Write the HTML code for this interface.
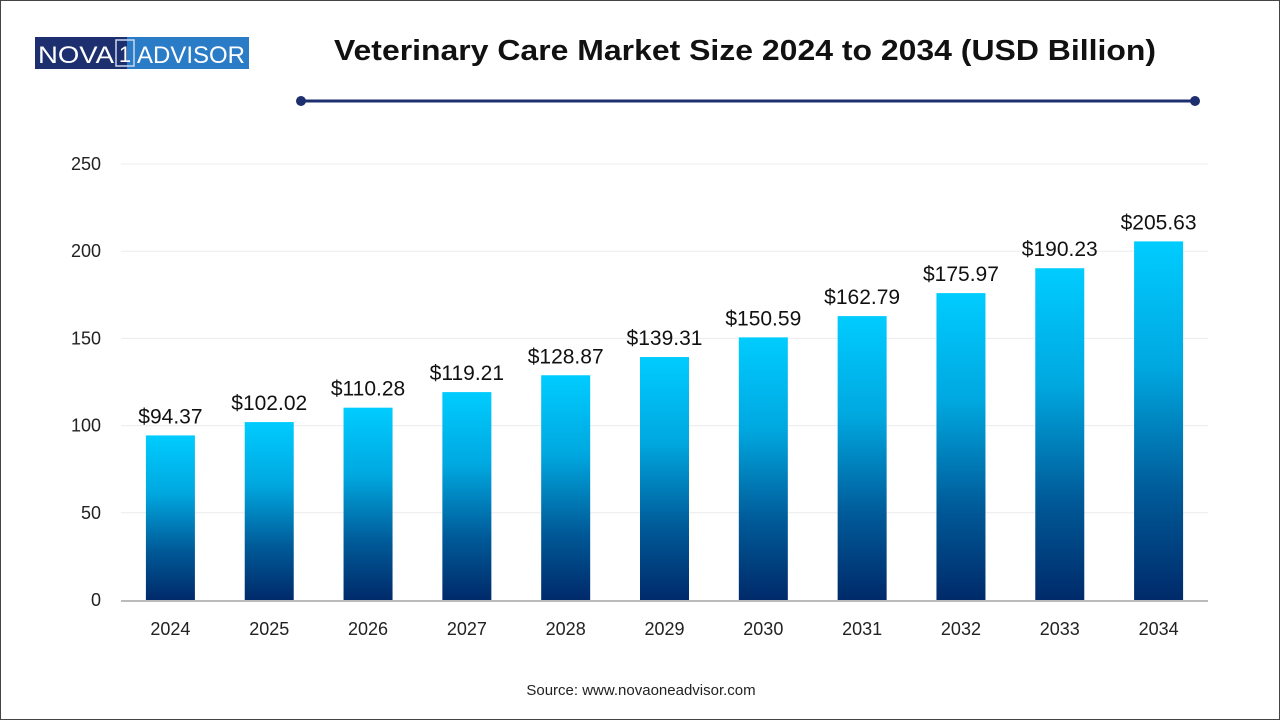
<!DOCTYPE html>
<html><head><meta charset="utf-8"><style>
body{margin:0;background:#fff;font-family:"Liberation Sans",Arial,sans-serif}
#wrap{position:relative;width:1278px;height:718px;border:1px solid #444;overflow:hidden}
</style></head><body>
<div id="wrap">
<svg width="1278" height="718" viewBox="0 0 1278 718" id="svg">
<defs>
<linearGradient id="g" x1="0" y1="0" x2="0" y2="1">
<stop offset="0" stop-color="#00CCFF"/><stop offset="0.35" stop-color="#00A8E0"/><stop offset="0.7" stop-color="#005A98"/><stop offset="1" stop-color="#002A6A"/>
</linearGradient>
</defs>
<g>
<rect x="34" y="36" width="92" height="32" fill="#1d2f6e"/>
<rect x="126" y="36" width="122" height="32" fill="#2a7cc6"/>
<rect x="115" y="39" width="18" height="26" fill="none" stroke="#c8d8ee" stroke-width="1.5"/>
<text x="37" y="62" font-size="24" fill="#fff" textLength="76" lengthAdjust="spacingAndGlyphs">NOVA</text>
<text x="124" y="61" font-size="22" fill="#fff" text-anchor="middle">1</text>
<text x="136" y="62" font-size="24" fill="#fff" textLength="108" lengthAdjust="spacingAndGlyphs">ADVISOR</text>
</g>
<text x="744" y="59" text-anchor="middle" font-size="29" font-weight="bold" fill="#111" textLength="822" lengthAdjust="spacingAndGlyphs">Veterinary Care Market Size 2024 to 2034 (USD Billion)</text>
<g>
<line x1="300" y1="100" x2="1194" y2="100" stroke="#1d2f6e" stroke-width="3"/>
<circle cx="300" cy="100" r="5" fill="#1d2f6e"/><circle cx="1194" cy="100" r="5" fill="#1d2f6e"/>
</g>
<g id="grid"></g><g id="bars"></g>
<text x="640" y="694" text-anchor="middle" font-size="15" fill="#222">Source: www.novaoneadvisor.com</text>
</svg>
</div>
<script>
const categories=["2024","2025","2026","2027","2028","2029","2030","2031","2032","2033","2034"];
const values=[94.37,102.02,110.28,119.21,128.87,139.31,150.59,162.79,175.97,190.23,205.63];
const labels=["$94.37","$102.02","$110.28","$119.21","$128.87","$139.31","$150.59","$162.79","$175.97","$190.23","$205.63"];
const ticks=[0,50,100,150,200,250];
const NS="http://www.w3.org/2000/svg";
const x0=120,x1=1207,y0=599,yTop=163,vmax=250;
const y=v=>y0-(v/vmax)*(y0-yTop);
const band=(x1-x0)/categories.length;
const xc=i=>x0+band*(i+0.5);
function mk(t,a,p){const e=document.createElementNS(NS,t);for(const k in a)e.setAttribute(k,a[k]);p.appendChild(e);return e;}
const grid=document.getElementById('grid'),bars=document.getElementById('bars');
ticks.forEach(t=>{
 if(t>0){const l=mk('line',{x1:x0,x2:x1,y1:y(t),y2:y(t),stroke:'#ececec','stroke-width':1},grid);
 
 }
 const tx=mk('text',{x:100,y:y(t)+6,'text-anchor':'end','font-size':18,fill:'#222'},grid);tx.textContent=t;
 
 
});
const ax=mk('line',{x1:x0,x2:x1,y1:y0+1,y2:y0+1,stroke:'#bbb','stroke-width':2},grid);


categories.forEach((c,i)=>{
 const w=49,h=y0-y(values[i]);
 const r=mk('rect',{x:xc(i)-w/2,y:y(values[i]),width:w,height:h,fill:'url(#g)'},bars);
 
 
 const v=mk('text',{x:xc(i),y:y(values[i])-12,'text-anchor':'middle','font-size':21,fill:'#111'},bars);v.textContent=labels[i];
 
 
 const t=mk('text',{x:xc(i),y:634,'text-anchor':'middle','font-size':18,fill:'#222'},bars);t.textContent=c;
 
 
});
</script>
</body></html>
